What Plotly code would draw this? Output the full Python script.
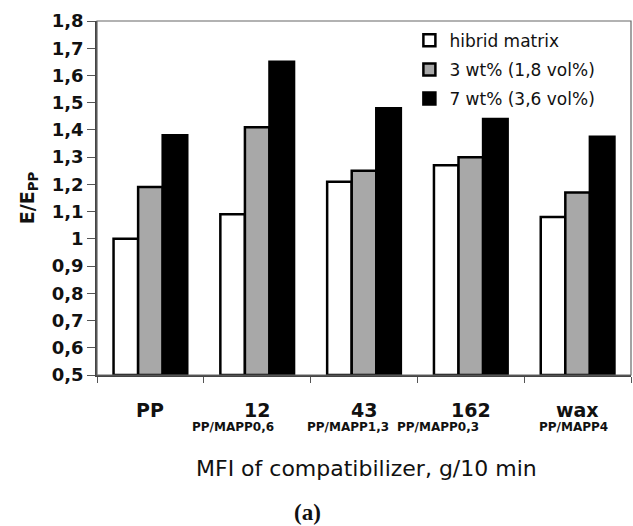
import plotly.graph_objects as go

categories = ["PP", "12", "43", "162", "wax"]
sublabels = ["", "PP/MAPP0,6", "PP/MAPP1,3", "PP/MAPP0,3", "PP/MAPP4"]
sub_shift = [0, -24, -16, -33, -4]
series_names = ["hibrid matrix", "3 wt% (1,8 vol%)", "7 wt% (3,6 vol%)"]
hibrid = [1.00, 1.09, 1.21, 1.27, 1.08]
wt3 = [1.19, 1.41, 1.25, 1.30, 1.17]
wt7 = [1.38, 1.65, 1.48, 1.44, 1.375]
colors = ["#ffffff", "#a8a8a8", "#000000"]
ytick_vals = [0.5, 0.6, 0.7, 0.8, 0.9, 1.0, 1.1, 1.2, 1.3, 1.4, 1.5, 1.6, 1.7, 1.8]
ytick_text = ["0,5", "0,6", "0,7", "0,8", "0,9", "1", "1,1", "1,2", "1,3", "1,4", "1,5", "1,6", "1,7", "1,8"]

fig = go.Figure()
for k, (name, vals, col) in enumerate(zip(series_names, [hibrid, wt3, wt7], colors)):
    fig.add_trace(go.Bar(
        x=categories, y=[v - 0.5 for v in vals], base=0.5, name=name, legendgroup="g%d" % k,
        marker=dict(color=col, line=dict(color="#000000", width=2.5)),
    ))

fig.update_layout(
    width=633, height=526,
    margin=dict(l=97, r=2, t=21, b=151),
    paper_bgcolor="white", plot_bgcolor="white",
    barmode="group", bargap=0.31, bargroupgap=0,
    font=dict(family="DejaVu Sans", color="#111111"),
    showlegend=True,
    legend=dict(
        x=0.585, y=0.995, xanchor="left", yanchor="top",
        bgcolor="rgba(0,0,0,0)", font=dict(size=17, family="DejaVu Sans", color="#111111"),
        itemwidth=30, tracegroupgap=4, traceorder="grouped",
    ),
    xaxis=dict(
        type="category", showticklabels=False, ticks="outside", tickson="boundaries",
        ticklen=6, tickcolor="#555555", showline=True, linecolor="#444444", linewidth=1.5,
        mirror=False, showgrid=False, fixedrange=True, range=[-0.5, len(categories) - 0.5],
    ),
    yaxis=dict(
        range=[0.5, 1.8], tickvals=ytick_vals, ticktext=ytick_text,
        ticks="outside", ticklen=8, tickcolor="#555555",
        tickfont=dict(size=18, family="DejaVu Sans", color="#111111", weight="bold"),
        showline=True, linecolor="#444444", linewidth=1.5, showgrid=False,
        title=dict(text="<b>E/E<sub>PP</sub></b>", font=dict(size=19, family="DejaVu Sans"), standoff=12),
    ),
    shapes=[dict(type="rect", xref="paper", yref="paper", x0=0, x1=1, y0=0, y1=1,
                 line=dict(color="#666666", width=1.2), fillcolor="rgba(0,0,0,0)", layer="above")],
)

annotations = []
for i, (cat, sub, sh) in enumerate(zip(categories, sublabels, sub_shift)):
    annotations.append(dict(x=i, y=0, xref="x", yref="paper", yshift=-35, yanchor="middle",
                            text="<b>" + cat + "</b>", showarrow=False,
                            font=dict(size=19, family="DejaVu Sans", color="#111111")))
    if sub:
        annotations.append(dict(x=i, y=0, xref="x", yref="paper", yshift=-52, xshift=sh,
                                yanchor="middle", text="<b>" + sub + "</b>", showarrow=False,
                                font=dict(size=12, family="DejaVu Sans", color="#111111")))
annotations.append(dict(x=0.505, y=0, xref="paper", yref="paper", yshift=-93, yanchor="middle",
                        text="MFI of compatibilizer, g/10 min", showarrow=False,
                        font=dict(size=22, family="DejaVu Sans", color="#111111")))
annotations.append(dict(x=0.395, y=0, xref="paper", yref="paper", yshift=-137, yanchor="middle",
                        text="<b>(a)</b>", showarrow=False,
                        font=dict(size=23, family="Liberation Serif", color="#111111")))
fig.update_layout(annotations=annotations)

fig.write_html("out.html")
